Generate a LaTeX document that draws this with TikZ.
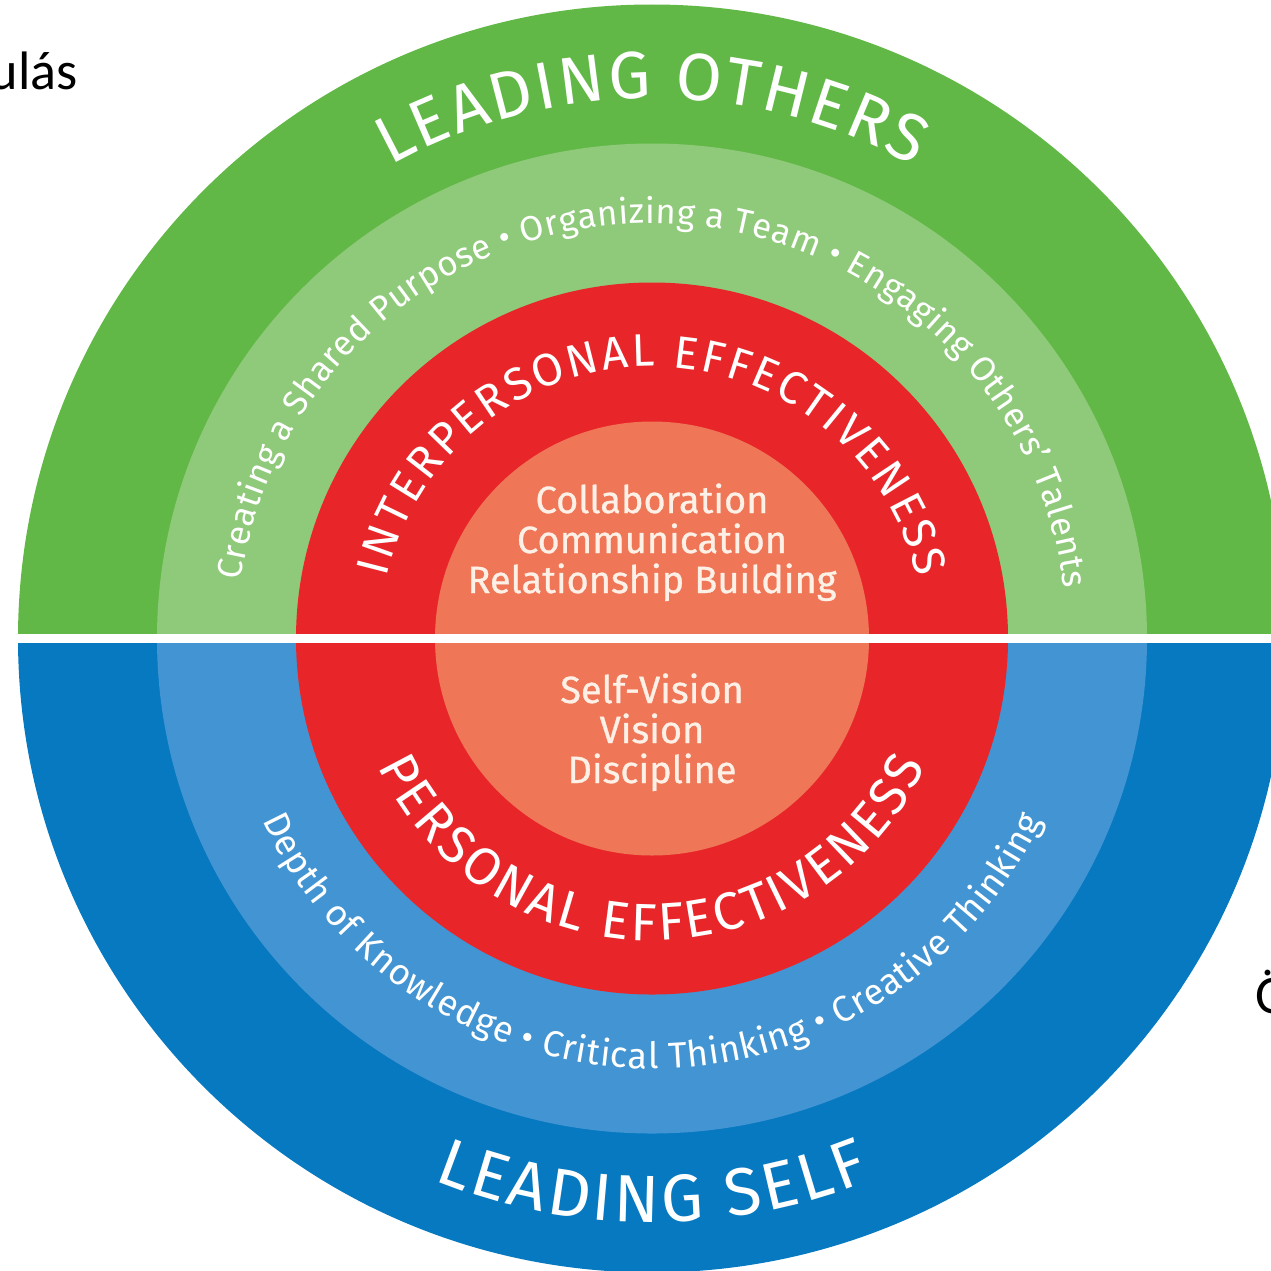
\documentclass[tikz,border=0pt]{standalone}
\usepackage{fontspec}
\setmainfont{Fira Sans}
\newfontfamily\slidefont{Carlito}
\newfontfamily\corefont[FakeBold=0.8]{Fira Sans}
\usetikzlibrary{decorations.text}
\definecolor{othersgreen}{HTML}{62B846}
\definecolor{othersltgreen}{HTML}{8FC97A}
\definecolor{selfblue}{HTML}{0679C1}
\definecolor{selfltblue}{HTML}{4394D2}
\definecolor{effred}{HTML}{E8262A}
\definecolor{coresalmon}{HTML}{EF7656}
\definecolor{corecream}{HTML}{FDF0E6}
\newcommand\ringtitle{\fontsize{19}{22}\selectfont}
\newcommand\ringeffect{\fontsize{13}{15}\selectfont}
\newcommand\ringeffectb{\fontsize{15}{17}\selectfont}
\newcommand\ringskill{\fontsize{10.3}{12}\selectfont}
\newcommand\ringskillb{\fontsize{9.9}{12}\selectfont}
\tikzset{ringlabel/.style={decorate,decoration={text along path,text align={fit to path},text color=white,text={#1}}}}
\tikzset{corelist/.style={text=corecream,anchor=base,inner sep=0pt,font=\corefont\fontsize{10.8}{12}\selectfont}}
\tikzset{slidetext/.style={inner sep=0pt,font=\slidefont\fontsize{15.4}{18}\selectfont}}
\begin{document}
\begin{tikzpicture}
\useasboundingbox (0,0) rectangle (12.71,-12.70);
\clip (0,0) rectangle (12.71,-12.70);
\coordinate (C) at (6.52,-6.385);
\fill[othersgreen] (C) ++(-6.34,0) arc[start angle=180,end angle=0,radius=6.34] -- cycle;
\fill[selfblue] (C) ++(-6.34,0) arc[start angle=180,end angle=360,radius=6.34] -- cycle;
\fill[othersltgreen] (C) ++(-4.95,0) arc[start angle=180,end angle=0,radius=4.95] -- cycle;
\fill[selfltblue] (C) ++(-4.95,0) arc[start angle=180,end angle=360,radius=4.95] -- cycle;
\fill[effred] (C) circle (3.56);
\fill[coresalmon] (C) circle (2.17);
\fill[white] (0,-6.34) rectangle (12.71,-6.43);
\path[ringlabel={|\ringtitle|LEADING OTHERS}] (C) ++(119:5.40) arc[start angle=119,end angle=61,radius=5.40];
\path[ringlabel={|\ringtitle|LEADING SELF}] (C) ++(248:5.84) arc[start angle=248,end angle=292,radius=5.84];
\path[ringlabel={|\ringskillb|Creating a Shared Purpose • Organizing a Team • Engaging Others’ Talents}] (C) ++(172:4.15) arc[start angle=172,end angle=7,radius=4.15];
\path[ringlabel={|\ringskill|Depth of Knowledge • Critical Thinking • Creative Thinking}] (C) ++(205:4.30) arc[start angle=205,end angle=335,radius=4.30];
\path[ringlabel={|\ringeffect|INTERPERSONAL EFFECTIVENESS}] (C) ++(167:2.72) arc[start angle=167,end angle=13,radius=2.72];
\path[ringlabel={|\ringeffectb|PERSONAL EFFECTIVENESS}] (C) ++(205:3.02) arc[start angle=205,end angle=335,radius=3.02];
\node[corelist] (collab) at (6.52,-5.13) {Collaboration};
\node[corelist] (commun) at (6.52,-5.53) {Communication};
\node[corelist] (relation) at (6.52,-5.93) {Relationship Building};
\node[corelist] (selfvision) at (6.52,-7.03) {Self-Vision};
\node[corelist] (vision) at (6.52,-7.43) {Vision};
\node[corelist] (discipline) at (6.52,-7.83) {Discipline};
\node[slidetext,anchor=base east] (slideleft) at (0.785,-0.895) {ulás};
\node[slidetext,anchor=base west] (slideright) at (12.55,-10.13) {Ö};
\end{tikzpicture}
\end{document}
